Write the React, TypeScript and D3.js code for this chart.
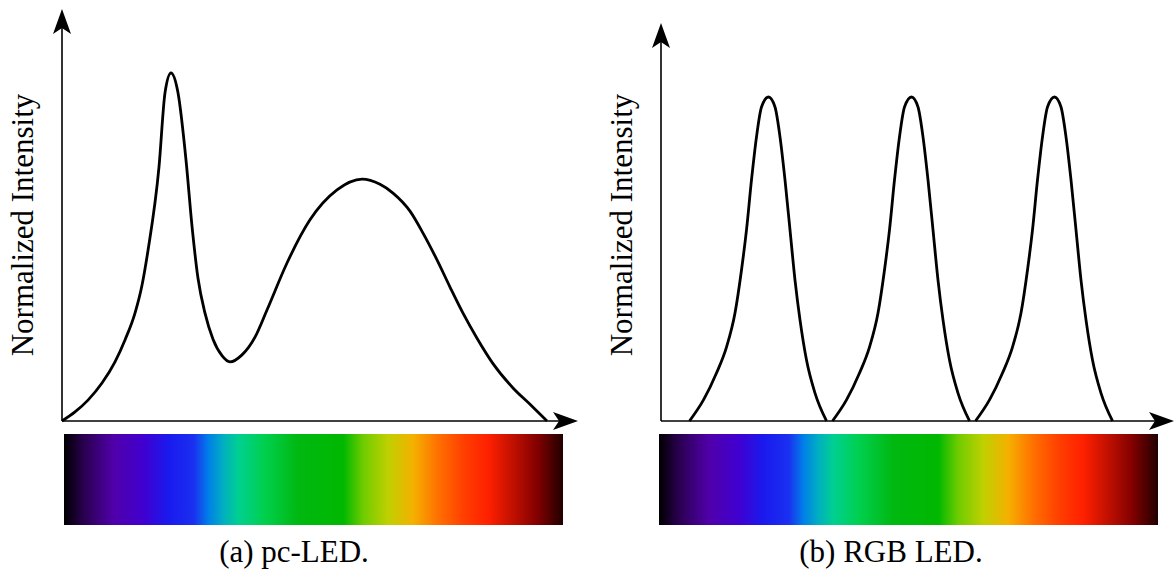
import React from 'react';
import * as d3 from 'd3';

// spectra (x: 0-100 along the axis, y: normalized)
const pcLedX = [0, 2.6, 5.2, 8, 10.6, 12.6, 14.6, 16, 17.2, 19.4, 20.6, 21.8, 23.2, 24.8, 26, 27.2, 28.6, 30.2, 32, 33.6, 36, 38.6, 41, 45, 49.6, 55, 60, 63.6, 66.2, 69.6, 72.2, 75, 77.6, 80.2, 83, 86.2, 90.2, 93.6, 97];
const pcLedY = [0, 0.026, 0.06, 0.109, 0.17, 0.233, 0.31, 0.39, 0.49, 0.73, 0.943, 1, 0.943, 0.75, 0.56, 0.41, 0.31, 0.235, 0.188, 0.17, 0.19, 0.241, 0.319, 0.454, 0.578, 0.664, 0.695, 0.68, 0.655, 0.603, 0.54, 0.463, 0.385, 0.31, 0.238, 0.165, 0.095, 0.048, 0];

const redPeakX = [5.7, 8.5, 11.1, 13.1, 14.8, 16.1, 17.1, 18.1, 19.1, 20.1, 21.5, 22.8, 23.8, 24.8, 25.8, 26.8, 27.8, 29.1, 30.8, 33.1];
const greenPeakX = [34.3, 37.1, 39.7, 41.7, 43.4, 44.7, 45.7, 46.7, 47.7, 48.7, 50.1, 51.4, 52.4, 53.4, 54.4, 55.4, 56.4, 57.7, 59.4, 61.7];
const bluePeakX = [62.9, 65.7, 68.3, 70.3, 72, 73.3, 74.3, 75.3, 76.3, 77.3, 78.7, 80, 81, 82, 83, 84, 85, 86.3, 88, 90.3];
const peakY = [0, 0.065, 0.148, 0.228, 0.333, 0.466, 0.59, 0.744, 0.877, 0.969, 1, 0.969, 0.877, 0.744, 0.59, 0.435, 0.312, 0.188, 0.086, 0];

const spectrumOffsets = [0, 0.04, 0.1, 0.16, 0.21, 0.26, 0.29, 0.32, 0.35, 0.4, 0.47, 0.56, 0.6, 0.65, 0.7, 0.75, 0.8, 0.85, 0.9, 0.95, 1];
const spectrumColors = ['#000000', '#2a0050', '#5000aa', '#4000d0', '#1a1aee', '#1a30f0', '#0080e8', '#00b0c0', '#00d090', '#00d050', '#00b810', '#00b800', '#70cc00', '#c0d000', '#f5b000', '#ff7000', '#ff4000', '#ff2000', '#c01000', '#800000', '#200000'];

const yLabel = 'Normalized Intensity';
const captions = ['(a) pc-LED.', '(b) RGB LED.'];

const font = '"Liberation Serif", "Times New Roman", serif';

type Pt = [number, number];
const zip = (xs: number[], ys: number[]): Pt[] => xs.map((x, i) => [x, ys[i]]);

function Arrow({ x, y, dir }: { x: number; y: number; dir: 'up' | 'right' }) {
    const d = 'M0,0 L-25,9 L-19,0 L-25,-9 Z';
    const rot = dir === 'up' ? -90 : 0;
    return <path d={d} transform={`translate(${x},${y}) rotate(${rot})`} fill="#000" />;
}

function Panel({ ox, oy, yTop, xEnd, yMax, barX0, barX1, series, caption, gid, capX }:
    { ox: number; oy: number; yTop: number; xEnd: number; yMax: number; barX0: number; barX1: number; series: Pt[][]; caption: string; gid: string; capX: number }) {
    const x = d3.scaleLinear().domain([0, 100]).range([ox, ox + 500]);
    const y = d3.scaleLinear().domain([0, 1]).range([oy, yMax]);
    const line = d3.line<Pt>().x(d => x(d[0])).y(d => y(d[1])).curve(d3.curveMonotoneX);
    return (
        <g>
            <defs>
                <linearGradient id={gid} x1="0" x2="1" y1="0" y2="0">
                    {spectrumOffsets.map((o, i) => <stop key={i} offset={o} stopColor={spectrumColors[i]} />)}
                </linearGradient>
            </defs>
            <line x1={ox} x2={ox} y1={oy} y2={yTop + 18} stroke="#000" strokeWidth={1.6} />
            <line x1={ox} x2={xEnd - 18} y1={oy} y2={oy} stroke="#000" strokeWidth={1.6} />
            {series.map((s, i) => (
                <path key={i} d={line(s) || ''} fill="none" stroke="#000" strokeWidth={2.8} strokeLinejoin="round" />
            ))}
            <Arrow x={ox} y={yTop} dir="up" />
            <Arrow x={xEnd} y={oy} dir="right" />
            <rect x={barX0} y={434} width={barX1 - barX0} height={91} fill={`url(#${gid})`} />
            <text transform={`translate(${ox - 29},225) rotate(-90)`} textAnchor="middle" fontFamily={font} fontSize={31} fill="#000">{yLabel}</text>
            <text x={capX} y={562} textAnchor="middle" fontFamily={font} fontSize={31} fill="#000">{caption}</text>
        </g>
    );
}

export default function App() {
    return (
        <svg width={1176} height={570} style={{ position: 'absolute', left: 0, top: 0, background: '#fff' }}>
            <rect width={1176} height={570} fill="#fff" />
            <Panel ox={62} oy={421} yTop={9} xEnd={578} yMax={73} barX0={64} barX1={563}
                series={[zip(pcLedX, pcLedY)]} caption={captions[0]} gid="specA" capX={294} />
            <Panel ox={661} oy={421} yTop={23} xEnd={1174} yMax={97} barX0={659} barX1={1158}
                series={[zip(redPeakX, peakY), zip(greenPeakX, peakY), zip(bluePeakX, peakY)]} caption={captions[1]} gid="specB" capX={891} />
        </svg>
    );
}
